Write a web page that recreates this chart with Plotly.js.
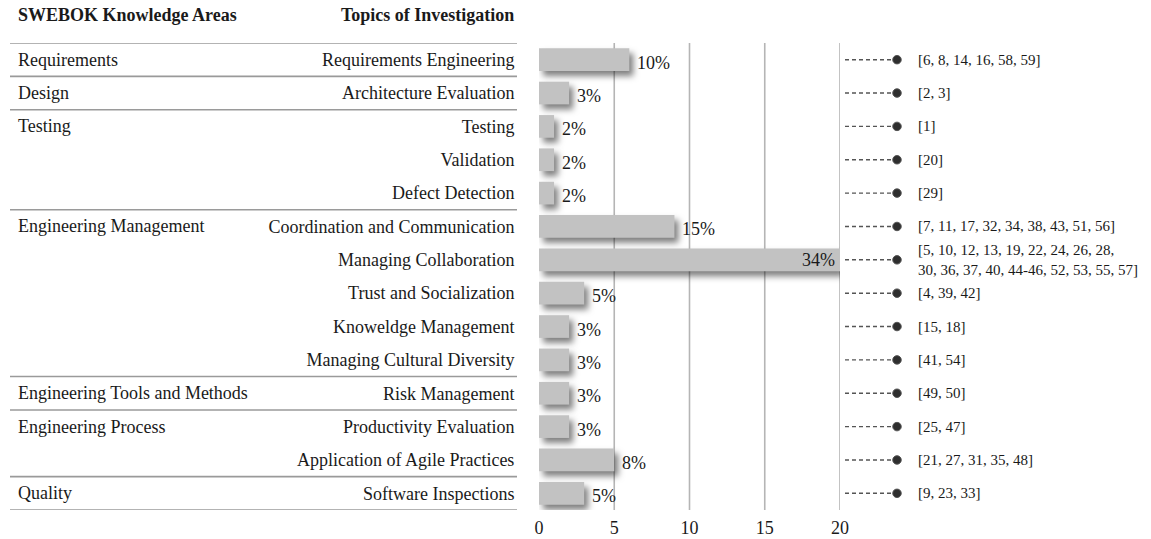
<!DOCTYPE html>
<html>
<head>
<meta charset="utf-8">
<script src="https://cdn.plot.ly/plotly-3.0.1.min.js"></script>
<style>
  html, body { margin: 0; padding: 0; background: #fff; }
  #chart { width: 1151px; height: 539px; }
  .barlayer .trace .point path { filter: drop-shadow(4px 5px 3px rgba(0,0,0,0.5)); }
</style>
</head>
<body>
<div id="chart"></div>
<script>
// ---- data ----
const topics = [
  "Requirements Engineering",
  "Architecture Evaluation",
  "Testing",
  "Validation",
  "Defect Detection",
  "Coordination and Communication",
  "Managing Collaboration",
  "Trust and Socialization",
  "Knoweldge Management",
  "Managing Cultural Diversity",
  "Risk Management",
  "Productivity Evaluation",
  "Application of Agile Practices",
  "Software Inspections"
];
const knowledgeAreas = [
  "Requirements", "Design", "Testing", "", "", "Engineering Management", "", "", "", "",
  "Engineering Tools and Methods", "Engineering Process", "", "Quality"
];
const counts = [6, 2, 1, 1, 1, 9, 20, 3, 2, 2, 2, 2, 5, 3];
const percentLabels = ["10%", "3%", "2%", "2%", "2%", "15%", "34%", "5%", "3%", "3%", "3%", "3%", "8%", "5%"];
const references = [
  "[6, 8, 14, 16, 58, 59]",
  "[2, 3]",
  "[1]",
  "[20]",
  "[29]",
  "[7, 11, 17, 32, 34, 38, 43, 51, 56]",
  "[5, 10, 12, 13, 19, 22, 24, 26, 28,<br>30, 36, 37, 40, 44-46, 52, 53, 55, 57]",
  "[4, 39, 42]",
  "[15, 18]",
  "[41, 54]",
  "[49, 50]",
  "[25, 47]",
  "[21, 27, 31, 35, 48]",
  "[9, 23, 33]"
];
const xTicks = [0, 5, 10, 15, 20];
const headerLeft = "SWEBOK Knowledge Areas";
const headerRight = "Topics of Investigation";

// ---- layout constants ----
const W = 1151, H = 539;
const FONT = "Liberation Serif, Times New Roman, serif";
const TXT = "#1a1a1a";
const xMax = 20;
const x0px = 539, x20px = 840;
const n = topics.length;

const bars = {
  type: "bar",
  orientation: "h",
  x: counts,
  y: topics,
  marker: { color: "#c2c2c2", line: { width: 0 } },
  hoverinfo: "skip",
  xaxis: "x", yaxis: "y"
};

// connector lines to the reference column
const cx = [], cy = [], cs = [];
topics.forEach(t => {
  cx.push(5, 57, null); cy.push(t, t, null); cs.push(0, 8.5, 0);
});
const connectors = {
  type: "scatter",
  mode: "lines+markers",
  x: cx, y: cy,
  xaxis: "x2", yaxis: "y",
  line: { color: "#555", width: 1.4, dash: "4px,3px" },
  marker: { color: "#2e2e2e", size: cs, opacity: 1 },
  hoverinfo: "skip",
  connectgaps: false
};

const annotations = [];
// headers
annotations.push({ xref: "paper", yref: "paper", x: 16 / W, y: 1 + 28 / 467, xanchor: "left", yanchor: "middle",
  text: "<b>" + headerLeft + "</b>", showarrow: false, font: { family: FONT, size: 18, color: TXT } });
annotations.push({ xref: "paper", yref: "paper", x: 516 / W, y: 1 + 28 / 467, xanchor: "right", yanchor: "middle",
  text: "<b>" + headerRight + "</b>", showarrow: false, font: { family: FONT, size: 18, color: TXT } });
// knowledge areas
knowledgeAreas.forEach((a, i) => {
  if (!a) return;
  annotations.push({ xref: "paper", yref: "y", x: 16 / W, y: topics[i], xanchor: "left", yanchor: "middle",
    text: a, showarrow: false, font: { family: FONT, size: 18, color: TXT } });
});
// percentage labels
counts.forEach((v, i) => {
  const inside = v >= xMax * 0.9;
  annotations.push({ xref: "x", yref: "y", x: v, y: topics[i],
    xanchor: inside ? "right" : "left", yanchor: "middle",
    xshift: inside ? -3 : 6, yshift: inside ? 0 : -3,
    text: percentLabels[i], showarrow: false, font: { family: FONT, size: 18, color: TXT } });
});
// references
references.forEach((r, i) => {
  annotations.push({ xref: "x2", yref: "y", x: 76, y: topics[i], xanchor: "left", yanchor: "middle",
    text: r, align: "left", showarrow: false, font: { family: FONT, size: 15, color: TXT } });
});

const shapes = [];
// vertical grid lines (except zero)
xTicks.filter(t => t !== 0).forEach(t => {
  shapes.push({ type: "line", xref: "x", yref: "paper", x0: t, x1: t, y0: 0, y1: 1,
    line: { color: "#b5b5b5", width: 1.6 }, layer: "below" });
});
// horizontal separators at each knowledge area start and at the end
const seps = [];
knowledgeAreas.forEach((a, i) => { if (a) seps.push(i - 0.5); });
seps.push(n - 0.5);
seps.forEach(yv => {
  shapes.push({ type: "line", xref: "paper", yref: "y", x0: 10 / W, x1: 517 / W, y0: yv, y1: yv,
    line: { color: "#9a9a9a", width: 1.6 } });
});

const layout = {
  width: W, height: H,
  margin: { l: 0, r: 0, t: 43, b: 29 },
  paper_bgcolor: "#fff", plot_bgcolor: "rgba(0,0,0,0)",
  showlegend: false,
  bargap: 0.32,
  hovermode: false,
  xaxis: {
    domain: [x0px / W, x20px / W],
    range: [0, xMax],
    tickvals: xTicks,
    ticktext: xTicks.map(String),
    showgrid: false, zeroline: false, showline: false,
    ticks: "outside", ticklen: 1, tickcolor: "rgba(0,0,0,0)",
    tickfont: { family: FONT, size: 18, color: TXT },
    fixedrange: true
  },
  xaxis2: {
    domain: [x20px / W, 1],
    range: [0, W - x20px],
    anchor: "y",
    visible: false,
    fixedrange: true
  },
  yaxis: {
    type: "category",
    categoryorder: "array",
    categoryarray: topics,
    range: [n - 0.5, -0.5],
    showgrid: false, zeroline: false, showline: false,
    ticks: "outside", ticklen: 20, tickcolor: "rgba(0,0,0,0)",
    tickfont: { family: FONT, size: 18, color: TXT },
    fixedrange: true
  },
  annotations: annotations,
  shapes: shapes
};

Plotly.newPlot("chart", [bars, connectors], layout, { staticPlot: true, displayModeBar: false });
</script>
</body>
</html>
